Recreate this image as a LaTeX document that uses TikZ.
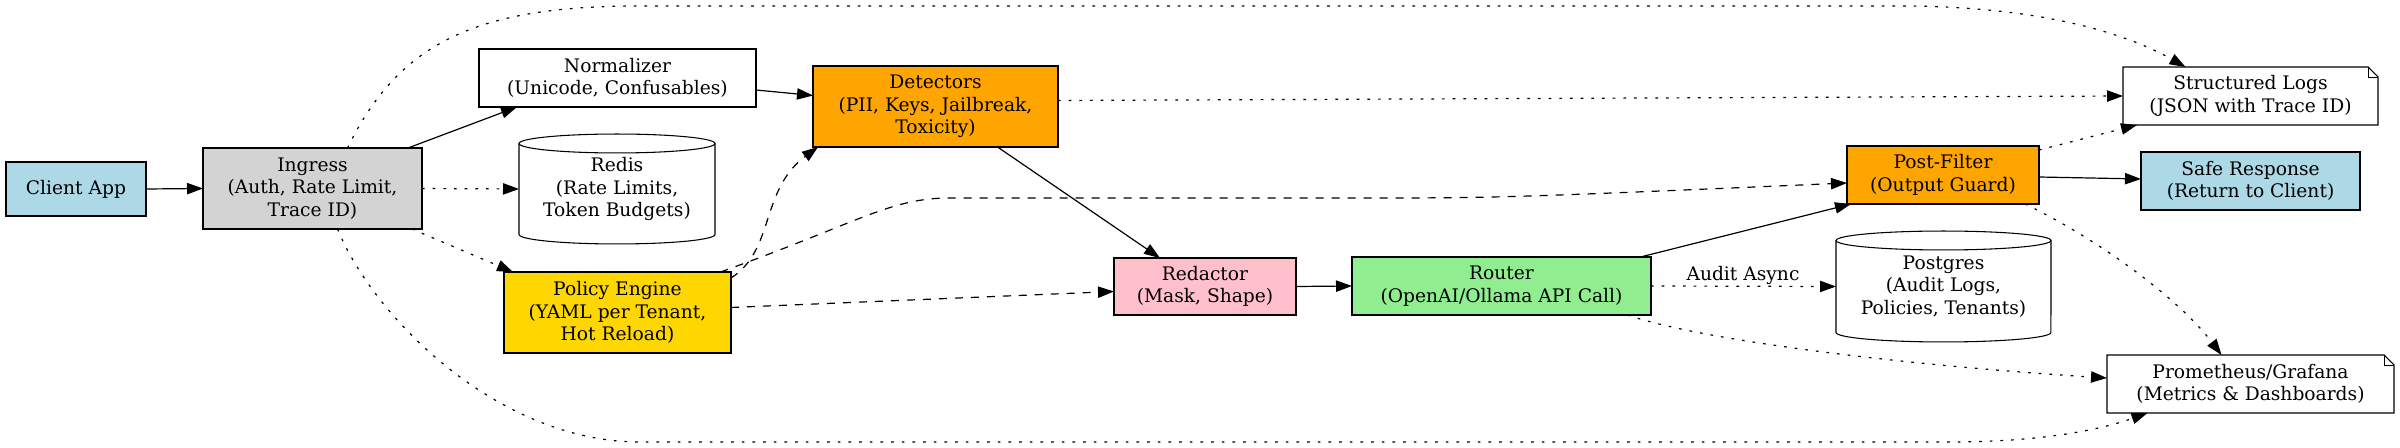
\documentclass[tikz,border=0pt]{standalone}
\usepackage{fontspec}
\setmainfont{DejaVu Serif}
\usetikzlibrary{arrows.meta,calc}
\definecolor{cBlue}{HTML}{ADD8E6}
\definecolor{cGray}{HTML}{D3D3D3}
\definecolor{cGold}{HTML}{FFD700}
\definecolor{cOrange}{HTML}{FFA500}
\definecolor{cPink}{HTML}{FFC0CB}
\definecolor{cGreen}{HTML}{90EE90}
\tikzset{
  base/.style={inner sep=0pt, outer sep=0pt, align=center, font=\fontsize{14}{17}\selectfont},
  sz/.style 2 args={minimum width=#1*0.75pt, minimum height=#2*0.75pt},
  box/.style={base, draw, line width=0.8pt},
  plain/.style={base},
  edge/.style={line width=0.9pt, -{Triangle[length=12pt,width=8.5pt]}},
  dotline/.style={edge, dash pattern=on 2pt off 6pt},
  dashline/.style={edge, dash pattern=on 6pt off 6pt},
  outline/.style={line width=0.8pt},
}
\begin{document}
\begin{tikzpicture}[x=0.75pt, y=-0.75pt]
\useasboundingbox[fill=white] (0,0) rectangle (2400,448);

% nodes
\node[box, fill=cBlue, sz={140}{54}] (client) at (76,189) {Client App};
\node[box, fill=cGray, sz={219}{81}] (ingress) at (312.5,188.5) {Ingress\\(Auth, Rate Limit,\\Trace ID)};
\node[box, fill=white, sz={277}{58}] (norm) at (617.5,78) {Normalizer\\(Unicode, Confusables)};
\node[plain, sz={196}{110}] (redis) at (617,189) {Redis\\(Rate Limits,\\Token Budgets)};
\node[box, fill=cGold, sz={227}{81}] (policy) at (617.5,312.5) {Policy Engine\\(YAML per Tenant,\\Hot Reload)};
\node[box, fill=cOrange, sz={245}{81}] (det) at (935.5,106.5) {Detectors\\(PII, Keys, Jailbreak,\\Toxicity)};
\node[box, fill=cPink, sz={182}{57}] (red) at (1205,286.5) {Redactor\\(Mask, Shape)};
\node[box, fill=cGreen, sz={299}{58}] (router) at (1501.5,286) {Router\\(OpenAI/Ollama API Call)};
\node[box, fill=cOrange, sz={192}{58}] (pf) at (1943,175) {Post-Filter\\(Output Guard)};
\node[plain, sz={215}{111}] (pg) at (1943.5,286.5) {Postgres\\(Audit Logs,\\Policies, Tenants)};
\node[plain, sz={255}{58}] (logs) at (2250.5,96) {Structured Logs\\(JSON with Trace ID)};
\node[box, fill=cBlue, sz={219}{58}] (safe) at (2250.5,181) {Safe Response\\(Return to Client)};
\node[plain, sz={287}{58}] (prom) at (2250.5,384) {Prometheus/Grafana\\(Metrics \& Dashboards)};
\node[plain] (auditlbl) at (1743,275) {Audit Async};

% cylinders
\draw[outline] ($(redis.north)+(0,9.5)$) ellipse [x radius=73.5pt, y radius=7.1pt];
\draw[outline] ($(redis.north west)+(0,9.5)$) -- ($(redis.south west)+(0,-9.5)$)
  arc [start angle=180, end angle=360, x radius=73.5pt, y radius=7.1pt]
  -- ($(redis.north east)+(0,9.5)$);
\draw[outline] ($(pg.north)+(0,9.5)$) ellipse [x radius=80.6pt, y radius=7.1pt];
\draw[outline] ($(pg.north west)+(0,9.5)$) -- ($(pg.south west)+(0,-9.5)$)
  arc [start angle=180, end angle=360, x radius=80.6pt, y radius=7.1pt]
  -- ($(pg.north east)+(0,9.5)$);

% notes
\foreach \n in {logs,prom}{
  \draw[outline] (\n.north west) -- ($(\n.north east)+(-10,0)$) -- ($(\n.north east)+(0,10)$)
    -- (\n.south east) -- (\n.south west) -- cycle;
  \draw[outline, line width=0.5pt] ($(\n.north east)+(-10,0)$) -- ($(\n.north east)+(-10,10)$) -- ($(\n.north east)+(0,10)$);
}

% edges
\draw[edge] (client.east) -- (ingress.west);
\draw[edge] ($(ingress.north east)+(-14,0)$) -- ($(norm.south west)+(38,0)$);
\draw[dotline] (ingress.east) -- (redis.west);
\draw[dotline] ($(ingress.south east)+(-10,0)$) -- ($(policy.north west)+(9,0)$);
\draw[dotline] ($(ingress.north)+(35,0)$) .. controls (400,40) and (480,6) .. (640,6)
  -- (1900,6) .. controls (2030,6) and (2120,30) .. ($(logs.north)+(-65,0)$);
\draw[dotline] ($(ingress.south)+(25,0)$) .. controls (375,320) and (500,442) .. (640,442)
  -- (1950,442) .. controls (2040,442) and (2100,430) .. ($(prom.south)+(-103,0)$);
\draw[edge] ($(norm.east)+(0,12)$) -- ($(det.west)+(0,-11)$);
\draw[dashline] ($(policy.north east)+(0,6)$) .. controls (775,250) and (760,190) .. ($(det.south west)+(5,0)$);
\draw[dashline] ($(policy.north)+(103,0)$) .. controls (860,222) and (890,198) .. (950,198)
  -- (1350,198) .. controls (1500,198) .. ($(pf.west)+(0,8)$);
\draw[dashline] ($(policy.east)+(0,-5)$) -- ($(red.west)+(0,5)$);
\draw[edge] ($(det.south)+(62,0)$) -- ($(red.north)+(-45,0)$);
\draw[dotline] ($(det.east)+(0,-6)$) -- (logs.west);
\draw[edge] (red.east) -- (router.west);
\draw[edge] ($(router.north)+(139,0)$) -- ($(pf.south west)+(4,0)$);
\draw[dotline] (router.east) -- (pg.west);
\draw[dotline] ($(router.south)+(126,0)$) .. controls (1700,340) and (1900,365) .. ($(prom.west)+(0,-6)$);
\draw[dotline] ($(pf.north east)+(0,4)$) -- ($(logs.south west)+(14,0)$);
\draw[edge] ($(pf.east)+(0,2)$) -- ($(safe.west)+(0,-2)$);
\draw[dotline] ($(pf.south east)+(-14,0)$) .. controls (2100,240) and (2180,300) .. ($(prom.north)+(-29,0)$);
\end{tikzpicture}
\end{document}
